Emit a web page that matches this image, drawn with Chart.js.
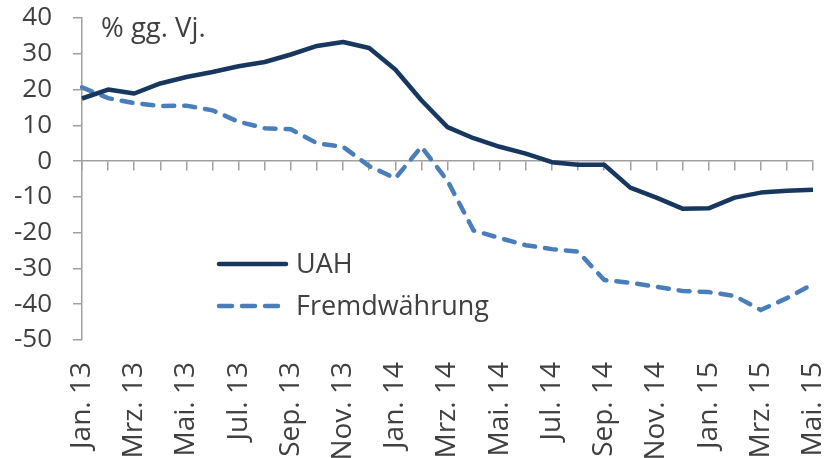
<!DOCTYPE html>
<html>
<head>
<meta charset="utf-8">
<script src="https://cdn.jsdelivr.net/npm/chart.js@4"></script>
<style>
  body { margin: 0; background: #fff; }
</style>
</head>
<body>
<canvas id="chart" width="827" height="458"></canvas>
<script>
const months = [
  'Jan. 13', 'Feb. 13', 'Mrz. 13', 'Apr. 13', 'Mai. 13', 'Jun. 13', 'Jul. 13', 'Aug. 13',
  'Sep. 13', 'Okt. 13', 'Nov. 13', 'Dez. 13', 'Jan. 14', 'Feb. 14', 'Mrz. 14', 'Apr. 14',
  'Mai. 14', 'Jun. 14', 'Jul. 14', 'Aug. 14', 'Sep. 14', 'Okt. 14', 'Nov. 14', 'Dez. 14',
  'Jan. 15', 'Feb. 15', 'Mrz. 15', 'Apr. 15', 'Mai. 15'
];
const uah = [
  17.5, 20, 18.9, 21.7, 23.5, 24.9, 26.5, 27.7, 29.8, 32.2, 33.3, 31.6, 25.6, 17, 9.5,
  6.4, 4, 2.1, -0.3, -1, -1, -7.4, -10.2, -13.3, -13.2, -10.2, -8.8, -8.3, -8
];
const fremd = [
  20.6, 17.6, 16.2, 15.4, 15.5, 14.2, 11, 9.2, 8.9, 5, 4, -1.4, -4.8, 4, -5.5,
  -19.4, -21.5, -23.5, -24.6, -25.3, -33.2, -34, -35.1, -36.3, -36.6, -37.7, -41.6, -38.3, -34.4
];
const yTicks = { min: -50, max: 40, step: 10 };
const unitLabel = '% gg. Vj.';

const textColor = '#404040';
const axisColor = '#a0a0a0';
const fontFamily = '"Open Sans", sans-serif';

// title in the upper left and the legend inside the plot
const overlay = {
  id: 'overlay',
  afterDraw(chart) {
    const ctx = chart.ctx;
    ctx.save();
    ctx.fillStyle = textColor;
    ctx.font = '27.5px ' + fontFamily;
    ctx.textBaseline = 'alphabetic';
    ctx.fillText(unitLabel, 101, 37);

    const rows = [264, 306];
    chart.data.datasets.forEach((ds, i) => {
      const y = rows[i];
      ctx.strokeStyle = ds.borderColor;
      ctx.lineWidth = ds.borderWidth;
      ctx.lineCap = 'round';
      ctx.setLineDash(ds.legendDash || []);
      ctx.beginPath();
      ctx.moveTo(219, y);
      ctx.lineTo(ds.legendDash ? 280 : 286, y);
      ctx.stroke();
      ctx.setLineDash([]);
      ctx.fillStyle = textColor;
      ctx.font = '27px ' + fontFamily;
      ctx.textBaseline = 'middle';
      ctx.fillText(ds.label, 296, y + 1);
    });
    ctx.restore();
  }
};

// keep the plot box where the reference has it
const noPad = s => {
  s.paddingLeft = 0;
  s.paddingRight = 0;
  s.paddingTop = 0;
  s.paddingBottom = 0;
};

new Chart(document.getElementById('chart'), {
  type: 'line',
  data: {
    labels: months,
    datasets: [
      {
        label: 'UAH',
        data: uah,
        borderColor: '#17375e',
        borderWidth: 4.5,
        pointRadius: 0,
        tension: 0,
        borderJoinStyle: 'round'
      },
      {
        label: 'Fremdwährung',
        data: fremd,
        borderColor: '#4a7ebb',
        borderWidth: 4.5,
        borderDash: [11, 10],
        borderCapStyle: 'round',
        legendDash: [13, 10],
        pointRadius: 0,
        tension: 0
      }
    ]
  },
  options: {
    responsive: false,
    animation: false,
    layout: { padding: { top: 18, right: 14, left: 0, bottom: 0 } },
    plugins: {
      legend: { display: false },
      tooltip: { enabled: false }
    },
    scales: {
      x: {
        type: 'category',
        offset: false,
        grid: { display: false },
        border: { display: false },
        ticks: {
          autoSkip: false,
          minRotation: 90,
          maxRotation: 90,
          padding: 14,
          color: textColor,
          font: { family: fontFamily, size: 28 },
          callback: (v, i) => (i % 2 === 0 ? months[i] : '')
        },
        afterFit: s => { s.height = 118; noPad(s); }
      },
      x2: {
        type: 'category',
        offset: false,
        position: { y: 0 },
        grid: { drawOnChartArea: false, drawTicks: true, tickLength: 9, color: axisColor, lineWidth: 1.5 },
        border: { display: true, color: axisColor, width: 1.5 },
        ticks: { display: false, autoSkip: false },
        afterFit: noPad
      },
      y: {
        min: yTicks.min,
        max: yTicks.max,
        grid: { drawOnChartArea: false, drawTicks: true, tickLength: 9, color: axisColor, lineWidth: 1.5 },
        border: { display: true, color: axisColor, width: 1.5 },
        ticks: {
          stepSize: yTicks.step,
          autoSkip: false,
          padding: 21,
          color: textColor,
          font: { family: fontFamily, size: 26 }
        },
        afterFit: s => { s.width = 82; noPad(s); }
      }
    }
  },
  plugins: [overlay]
});
</script>
</body>
</html>
